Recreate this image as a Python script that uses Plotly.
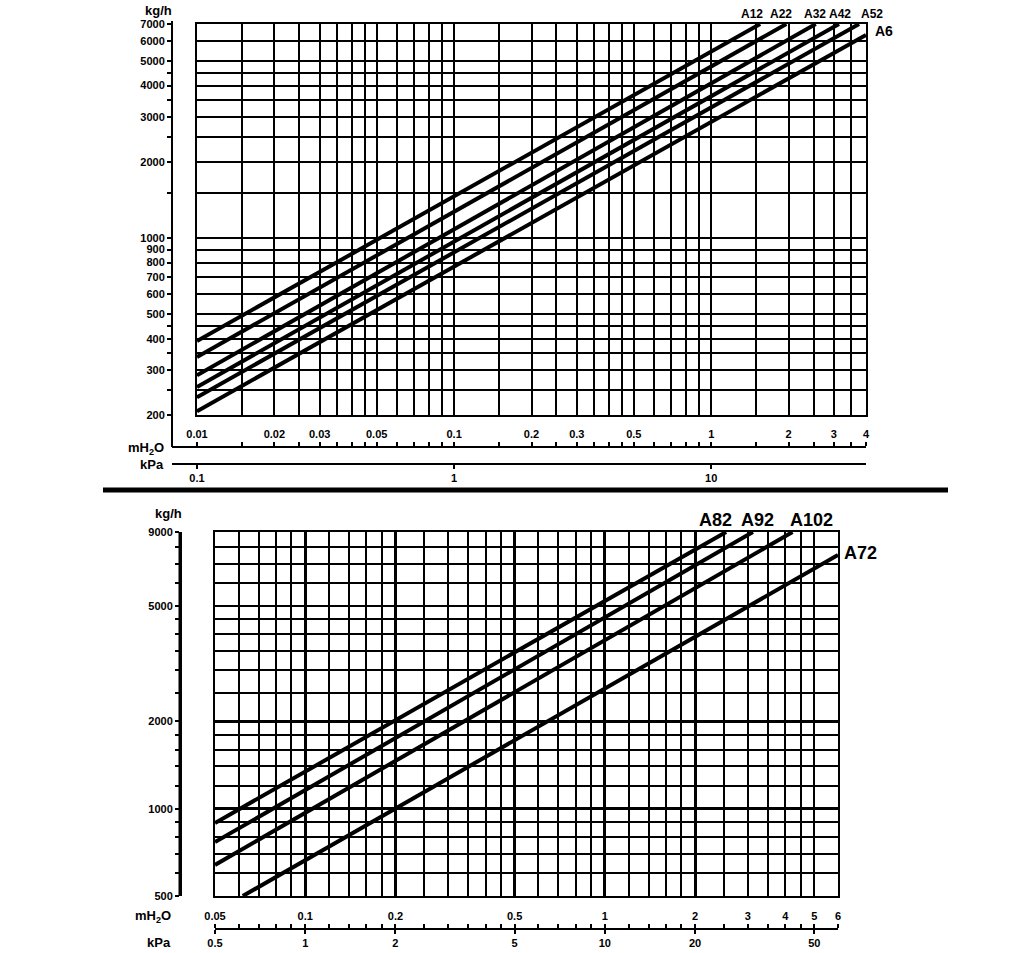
import numpy as np
import plotly.graph_objects as go

W, H = 1024, 953

# ---- upper diagram: A12 .. A6 -------------------------------------------
top_names = ["A12", "A22", "A32", "A42", "A52", "A6"]
top_dp = [[0.01, 1.55], [0.01, 1.96], [0.01, 2.55], [0.01, 3.14], [0.01, 3.76], [0.01, 4.0]]
top_flow = [[392, 7000], [339, 7000], [287, 7000], [258, 7000], [235, 7000], [207, 6340]]

top_x_grid = [0.01, 0.015, 0.02, 0.025, 0.03, 0.035, 0.04, 0.045, 0.05, 0.06, 0.07, 0.08, 0.09,
              0.1, 0.15, 0.2, 0.25, 0.3, 0.35, 0.4, 0.45, 0.5, 0.6, 0.7, 0.8, 0.9,
              1, 1.5, 2, 2.5, 3, 3.5, 4]
top_x_labels = [0.01, 0.02, 0.03, 0.05, 0.1, 0.2, 0.3, 0.5, 1, 2, 3, 4]
top_kpa_labels = [0.1, 1, 10]
top_y_grid = [200, 250, 300, 350, 400, 450, 500, 600, 700, 800, 900, 1000,
              1500, 2000, 2500, 3000, 3500, 4000, 4500, 5000, 6000, 7000]
top_y_labels = [200, 300, 400, 500, 600, 700, 800, 900, 1000, 2000, 3000, 4000, 5000, 6000, 7000]

# ---- lower diagram: A72 .. A102 -----------------------------------------
bot_names = ["A82", "A92", "A102", "A72"]
bot_dp = [[0.05, 2.54], [0.05, 3.12], [0.05, 4.23], [0.0619, 6.0]]
bot_flow = [[893, 9000], [767, 9000], [640, 9000], [500, 7500]]

bot_x_major = [0.05, 0.1, 0.2, 0.5, 1, 2]
bot_x_minor = [0.06, 0.07, 0.08, 0.09, 0.12, 0.14, 0.16, 0.18, 0.25, 0.3, 0.35, 0.4, 0.45,
               0.6, 0.7, 0.8, 0.9, 1.2, 1.4, 1.6, 1.8, 2.5, 3, 3.5, 4, 4.5, 5, 6]
bot_x_labels = [0.05, 0.1, 0.2, 0.5, 1, 2, 3, 4, 5, 6]
bot_kpa_labels = [0.5, 1, 2, 5, 10, 20, 50]
bot_y_major = [500, 1000, 2000, 9000]
bot_y_minor = [600, 700, 800, 900, 1200, 1400, 1600, 1800, 2500, 3000, 3500, 4000, 4500,
               5000, 6000, 7000, 8000]
bot_y_labels = [500, 1000, 2000, 5000, 9000]


def px(x):
    return x / W


def py(y):
    return 1 - y / H


def fmt(v):
    return f"{v:g}"


BOLD = dict(family="Arial", size=11, color="black", weight="bold")
LOG = np.log10

# pixel frames of the two plot areas
T = dict(l=197, r=866, t=24, b=415)
B = dict(l=215, r=838, t=532, b=896)

fig = go.Figure()

for name, xs, ys in zip(top_names, top_dp, top_flow):
    fig.add_trace(go.Scatter(x=xs, y=ys, mode="lines", name=name, showlegend=False,
                             hoverinfo="skip", line=dict(color="black", width=4),
                             xaxis="x", yaxis="y"))
for name, xs, ys in zip(bot_names, bot_dp, bot_flow):
    fig.add_trace(go.Scatter(x=xs, y=ys, mode="lines", name=name, showlegend=False,
                             hoverinfo="skip", line=dict(color="black", width=4),
                             xaxis="x2", yaxis="y2"))


def holder(xs, ys, xa, ya):
    # invisible trace so plotly draws the scale-only axes
    fig.add_trace(go.Scatter(x=xs, y=ys, mode="markers", opacity=0, showlegend=False,
                             hoverinfo="skip", marker=dict(size=1),
                             xaxis=xa, yaxis=ya))


holder(top_x_labels, [top_y_labels[0]] * len(top_x_labels), "x3", "y3")
holder(top_kpa_labels, [top_y_labels[0]] * len(top_kpa_labels), "x4", "y3")
holder([bot_x_labels[0]] * len(bot_y_labels), bot_y_labels, "x2", "y4")
holder(bot_x_labels, [bot_y_labels[0]] * len(bot_x_labels), "x5", "y2")
holder(bot_kpa_labels, [bot_y_labels[0]] * len(bot_kpa_labels), "x6", "y2")

grid = dict(type="log", showgrid=True, gridcolor="black", gridwidth=2,
            showticklabels=False, ticks="", zeroline=False, automargin=False,
            showline=True, mirror=True, linecolor="black", linewidth=2)

tx_range = [LOG(top_x_grid[0]), LOG(top_x_grid[-1])]
ty_range = [LOG(top_y_grid[0]), LOG(top_y_grid[-1])]
bx_range = [LOG(bot_x_major[0]), LOG(bot_x_minor[-1])]
by_range = [LOG(bot_y_major[0]), LOG(bot_y_major[-1])]

# pixels per decade in the upper diagram (for the offset axes)
tx_ppd = (T["r"] - T["l"]) / (tx_range[1] - tx_range[0])
ty_ppd = (T["b"] - T["t"]) / (ty_range[1] - ty_range[0])
ax_left, ax_bottom, ax_top = 172, 447, 21
bot_ax_left, bot_ax_bottom = 180, 929
x3_range = [tx_range[0] - (T["l"] - ax_left) / tx_ppd, tx_range[1]]
y3_range = [ty_range[0] - (ax_bottom - T["b"]) / ty_ppd, ty_range[1] + (T["t"] - ax_top) / ty_ppd]

scale = dict(type="log", showgrid=False, zeroline=False, showline=True, automargin=False,
             linecolor="black", linewidth=2, ticks="outside", ticklen=4, tickwidth=2,
             tickcolor="black", tickfont=BOLD)

fig.update_layout(
    width=W, height=H, autosize=False,
    margin=dict(l=0, r=0, t=0, b=0, pad=0, autoexpand=False),
    paper_bgcolor="white", plot_bgcolor="rgba(0,0,0,0)",
    showlegend=False,
    # upper plot area
    xaxis=dict(grid, domain=[px(T["l"]), px(T["r"])], range=tx_range, anchor="y",
               tickvals=top_x_grid),
    yaxis=dict(grid, domain=[py(T["b"]), py(T["t"])], range=ty_range, anchor="x",
               tickvals=top_y_grid),
    # lower plot area
    xaxis2=dict(grid, domain=[px(B["l"]), px(B["r"])], range=bx_range, anchor="y2",
                tickvals=bot_x_major, gridwidth=3,
                minor=dict(tickvals=bot_x_minor, showgrid=True, gridcolor="black", gridwidth=2)),
    yaxis2=dict(grid, domain=[py(B["b"]), py(B["t"])], range=by_range, anchor="x2",
                tickvals=bot_y_major, gridwidth=3,
                minor=dict(tickvals=bot_y_minor, showgrid=True, gridcolor="black", gridwidth=2)),
    # upper: mH2O scale (labels above its line)
    xaxis3=dict(scale, domain=[px(ax_left), px(T["r"])], range=x3_range,
                anchor="free", position=py(ax_bottom), side="top",
                tickvals=top_x_grid,
                ticktext=[fmt(v) if v in top_x_labels else "" for v in top_x_grid]),
    # upper: kPa scale
    xaxis4=dict(scale, overlaying="x3", range=[r + 1 for r in x3_range],
                anchor="free", position=py(464), side="bottom",
                tickvals=top_kpa_labels, ticktext=[fmt(v) for v in top_kpa_labels]),
    # upper: kg/h scale
    yaxis3=dict(scale, domain=[py(ax_bottom), py(ax_top)], range=y3_range,
                anchor="free", position=px(ax_left), side="left",
                tickvals=top_y_grid,
                ticktext=[fmt(v) if v in top_y_labels else "" for v in top_y_grid]),
    # lower: kg/h scale
    yaxis4=dict(scale, overlaying="y2", range=by_range, linewidth=3,
                anchor="free", position=px(bot_ax_left), side="left",
                tickvals=sorted(bot_y_major + bot_y_minor),
                ticktext=[fmt(v) if v in bot_y_labels else "" for v in sorted(bot_y_major + bot_y_minor)]),
    # lower: mH2O scale
    xaxis5=dict(scale, overlaying="x2", range=bx_range,
                anchor="free", position=py(bot_ax_bottom), side="top",
                tickvals=sorted(bot_x_major + bot_x_minor),
                ticktext=[fmt(v) if v in bot_x_labels else "" for v in sorted(bot_x_major + bot_x_minor)]),
    # lower: kPa scale
    xaxis6=dict(scale, overlaying="x2", range=[r + 1 for r in bx_range], showline=False,
                anchor="free", position=py(bot_ax_bottom), side="bottom",
                tickvals=bot_kpa_labels, ticktext=[fmt(v) for v in bot_kpa_labels]),
)

# scale lines that plotly leaves out for the free axes, plus the separator
for x0, y0, x1, y1, w in [(ax_left, ax_top, ax_left, ax_bottom, 2),
                          (ax_left, ax_bottom, T["r"], ax_bottom, 2),
                          (bot_ax_left, B["t"], bot_ax_left, B["b"], 3),
                          (103, 490, 948, 490, 5)]:
    fig.add_shape(type="line", xref="paper", yref="paper",
                  x0=px(x0), x1=px(x1), y0=py(y0), y1=py(y1),
                  line=dict(color="black", width=w))

# unit captions
unit_font = dict(family="Arial", size=13, color="black", weight="bold")
for text, x, y in [("kg/h", 174, 10), ("mH<sub>2</sub>O", 166, 448), ("kPa", 166, 465),
                   ("kg/h", 184, 513), ("mH<sub>2</sub>O", 173, 916), ("kPa", 173, 942)]:
    fig.add_annotation(text=text, xref="paper", yref="paper", x=px(x), y=py(y),
                       xanchor="right", yanchor="middle", showarrow=False, font=unit_font)

# curve names at the line ends
top_shift = [(-8, 10), (-5, 10), (-1, 10), (1, 10), (13, 10), (18, 4)]
for name, xs, ys, (dx, dy) in zip(top_names, top_dp, top_flow, top_shift):
    fig.add_annotation(text=name, xref="x", yref="y", x=LOG(xs[-1]), y=LOG(ys[-1]),
                       xshift=dx, yshift=dy, showarrow=False,
                       font=dict(family="Arial", size=14 if name == "A6" else 12,
                                 color="black", weight="bold"))

bot_shift = [(-11, 12), (5, 12), (19, 12), (22, 2)]
for name, xs, ys, (dx, dy) in zip(bot_names, bot_dp, bot_flow, bot_shift):
    fig.add_annotation(text=name, xref="x2", yref="y2", x=LOG(xs[-1]), y=LOG(ys[-1]),
                       xshift=dx, yshift=dy, showarrow=False,
                       font=dict(family="Arial", size=18, color="black", weight="bold"))

fig.write_html("out.html", config={"displayModeBar": False},
               post_script="document.body.style.margin='0';")
